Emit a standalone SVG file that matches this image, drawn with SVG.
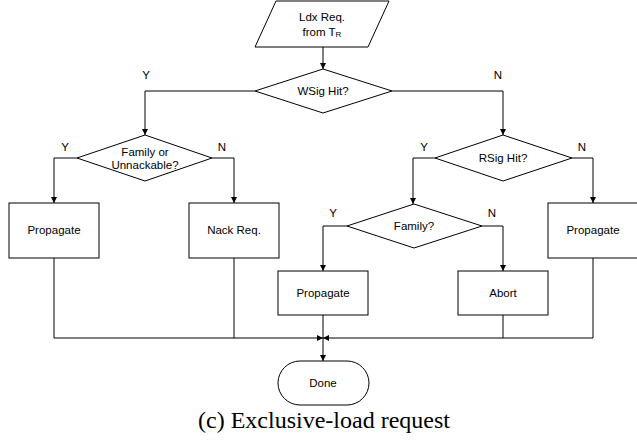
<svg xmlns="http://www.w3.org/2000/svg" width="637" height="444" viewBox="0 0 637 444">
<style>
.s{fill:#fff;stroke:#000;stroke-width:1}
.t{font-family:"Liberation Sans",Arial,sans-serif;font-size:11.5px;fill:#000;text-anchor:middle;dominant-baseline:central}
.l{font-family:"Liberation Sans",Arial,sans-serif;font-size:11.5px;fill:#000;text-anchor:middle;dominant-baseline:central}
.c{fill:none;stroke:#000;stroke-width:1}
.cap{font-family:"Liberation Serif","Times New Roman",serif;font-size:24px;fill:#000;text-anchor:middle}
</style>
<defs>
<marker id="a" viewBox="0 0 10 10" refX="10" refY="5" markerWidth="6" markerHeight="6" markerUnits="userSpaceOnUse" orient="auto">
<path d="M0,0 L10,5 L0,10 z" fill="#000"/>
</marker>
</defs>
<rect width="637" height="444" fill="#fff"/>
<g id="connectors">
<path class="c" d="M323,47 V69" marker-end="url(#a)"/>
<path class="c" d="M255,91 H145 V135" marker-end="url(#a)"/>
<path class="c" d="M392,91 H503 V135" marker-end="url(#a)"/>
<path class="c" d="M77,158 H54 V203" marker-end="url(#a)"/>
<path class="c" d="M212,158 H234 V203" marker-end="url(#a)"/>
<path class="c" d="M435,158 H413 V204" marker-end="url(#a)"/>
<path class="c" d="M572,158 H593 V203" marker-end="url(#a)"/>
<path class="c" d="M347,226 H323 V271" marker-end="url(#a)"/>
<path class="c" d="M482,226 H503 V271" marker-end="url(#a)"/>
<path class="c" d="M54,258 V338 H323" marker-end="url(#a)"/>
<path class="c" d="M234,258 V338"/>
<path class="c" d="M593,258 V338 H323" marker-end="url(#a)"/>
<path class="c" d="M503,315 V338"/>
<path class="c" d="M323,315 V361" marker-end="url(#a)"/>
<text class="l" x="146" y="75">Y</text>
<text class="l" x="498" y="75">N</text>
<text class="l" x="65" y="147">Y</text>
<text class="l" x="222" y="147">N</text>
<text class="l" x="424" y="147">Y</text>
<text class="l" x="582" y="147">N</text>
<text class="l" x="333" y="213">Y</text>
<text class="l" x="492" y="213">N</text>
</g>
<g id="start">
<polygon class="s" points="276,1 389,1 368,47 255,47"/>
<text class="t" x="322" y="17">Ldx Req.</text>
<text class="t" x="322" y="32">from T<tspan font-size="8" dy="2">R</tspan></text>
</g>
<g id="wsig">
<polygon class="s" points="323,69 392,91 323,113 255,91"/>
<text class="t" x="323" y="91">WSig Hit?</text>
</g>
<g id="family-unnack">
<polygon class="s" points="145,135 212,158 145,181 77,158"/>
<text class="t" x="145" y="152">Family or</text>
<text class="t" x="145" y="165">Unnackable?</text>
</g>
<g id="rsig">
<polygon class="s" points="503,135 572,158 503,181 435,158"/>
<text class="t" x="503" y="158">RSig Hit?</text>
</g>
<g id="family">
<polygon class="s" points="414,204 482,226 414,248 347,226"/>
<text class="t" x="414" y="226">Family?</text>
</g>
<g id="propagate1">
<rect class="s" x="9" y="203" width="90" height="55"/>
<text class="t" x="54" y="230">Propagate</text>
</g>
<g id="nack">
<rect class="s" x="189" y="203" width="90" height="55"/>
<text class="t" x="234" y="230">Nack Req.</text>
</g>
<g id="propagate3">
<rect class="s" x="548" y="203" width="90" height="55"/>
<text class="t" x="593" y="230">Propagate</text>
</g>
<g id="propagate2">
<rect class="s" x="278" y="271" width="90" height="44"/>
<text class="t" x="323" y="293">Propagate</text>
</g>
<g id="abort">
<rect class="s" x="458" y="271" width="90" height="44"/>
<text class="t" x="503" y="293">Abort</text>
</g>
<g id="done">
<rect class="s" x="278" y="361" width="91" height="44" rx="22" ry="22"/>
<text class="t" x="323" y="383">Done</text>
</g>
<text class="cap" x="324" y="428">(c) Exclusive-load request</text>
</svg>
